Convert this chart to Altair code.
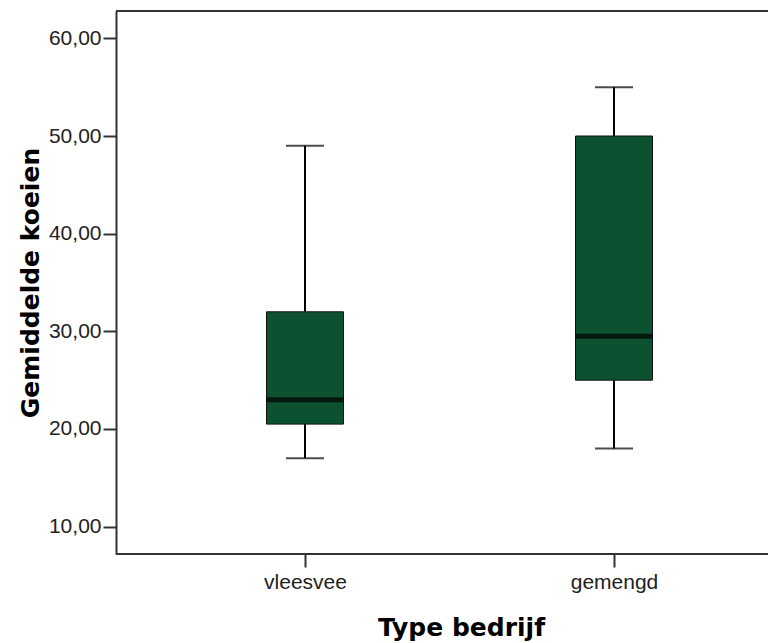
import altair as alt
import pandas as pd

# Five-number summaries per farm type
categories = ["vleesvee", "gemengd"]
minimum = [17.0, 18.0]
q1 = [20.5, 25.0]
median = [23.0, 29.5]
q3 = [32.0, 50.0]
maximum = [49.0, 55.0]
y_ticks = [10, 20, 30, 40, 50, 60]

df = pd.DataFrame({
    "type": categories,
    "min": minimum,
    "q1": q1,
    "median": median,
    "q3": q3,
    "max": maximum,
})

PLOT_W, PLOT_H = 652, 543
FRAME = "#333333"
BOX_FILL = "#0c5230"

x_enc = alt.X(
    "type:N",
    scale=alt.Scale(type="point", domain=categories, range=[189, 498], padding=0),
    axis=alt.Axis(
        title="Type bedrijf",
        domain=False,
        labelAngle=0,
        labelFont="Liberation Sans",
        labelFontSize=21,
        labelColor="#222222",
        labelPadding=4,
        titleFont="DejaVu Sans",
        titleFontSize=25,
        titleFontWeight="bold",
        titleColor="#000000",
        titleX=345,
        titleY=81,
        titleAlign="center",
        titleBaseline="alphabetic",
    ),
)

y_scale = alt.Scale(domain=[7.2, 62.8], nice=False, zero=False)
y_axis = alt.Axis(
    title="Gemiddelde koeien",
    values=y_ticks,
    labelExpr="replace(format(datum.value, '.2f'), '.', ',')",
    labelFont="Liberation Sans",
    labelFontSize=21,
    labelColor="#222222",
    labelPadding=2,
    grid=False,
    titleFont="DejaVu Sans",
    titleFontSize=25,
    titleFontWeight="bold",
    titleColor="#000000",
    titleX=-78,
    titleBaseline="alphabetic",
)

base = alt.Chart(df)

whisker_low = base.mark_rule(color="black", strokeWidth=2).encode(
    x=x_enc,
    y=alt.Y("min:Q", scale=y_scale, axis=y_axis),
    y2="q1:Q",
)
whisker_high = base.mark_rule(color="black", strokeWidth=2).encode(
    x=x_enc,
    y=alt.Y("q3:Q", scale=y_scale, axis=y_axis),
    y2="max:Q",
)
box = base.mark_bar(size=77, color=BOX_FILL, stroke="#111111", strokeWidth=1).encode(
    x=x_enc,
    y=alt.Y("q1:Q", scale=y_scale, axis=y_axis),
    y2="q3:Q",
)
mid = base.mark_tick(size=77, thickness=5, color="black").encode(
    x=x_enc,
    y=alt.Y("median:Q", scale=y_scale, axis=y_axis),
)
cap_low = base.mark_tick(size=38, thickness=2, color="black").encode(
    x=x_enc,
    y=alt.Y("min:Q", scale=y_scale, axis=y_axis),
)
cap_high = base.mark_tick(size=38, thickness=2, color="black").encode(
    x=x_enc,
    y=alt.Y("max:Q", scale=y_scale, axis=y_axis),
)

# top and bottom edges of the plot frame
frame = alt.Data(values=[{}])
top_edge = alt.Chart(frame).mark_rule(color=FRAME, strokeWidth=2).encode(
    x=alt.value(0), x2=alt.value(PLOT_W), y=alt.value(0)
)
bottom_edge = alt.Chart(frame).mark_rule(color=FRAME, strokeWidth=2).encode(
    x=alt.value(0), x2=alt.value(PLOT_W), y=alt.value(PLOT_H)
)

chart = (
    alt.layer(whisker_low, whisker_high, box, mid, cap_low, cap_high, top_edge, bottom_edge)
    .properties(
        width=PLOT_W,
        height=PLOT_H,
        autosize="none",
        padding={"left": 116, "top": 11, "right": 0, "bottom": 89},
        background="white",
    )
    .configure_view(stroke=None)
    .configure_axis(
        domainColor=FRAME,
        domainWidth=2,
        tickColor=FRAME,
        tickWidth=2,
        tickSize=13,
    )
)

chart.save("out.html", embed_options={"renderer": "svg", "actions": False})
